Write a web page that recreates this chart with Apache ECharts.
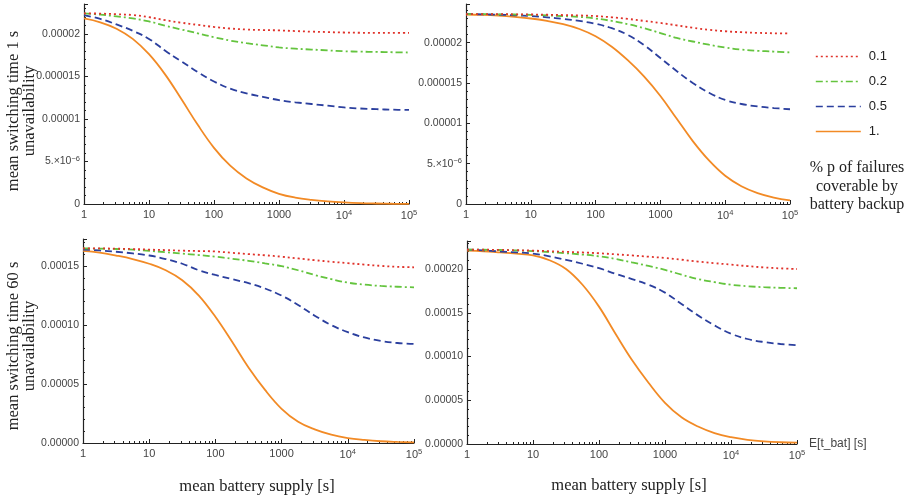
<!DOCTYPE html>
<html>
<head>
<meta charset="utf-8">
<script src="https://cdn.jsdelivr.net/npm/echarts@6/dist/echarts.min.js"></script>
<style>html,body{margin:0;padding:0;background:#fff}#c{width:914px;height:499px}</style>
</head>
<body>
<div id="c"></div>
<script>
// ---- data ----
const xs = [1, 1.778, 3.162, 5.623, 10, 17.78, 31.62, 56.23, 100, 177.8, 316.2, 562.3, 1000, 1778, 3162, 5623, 10000, 17783, 31623, 56234, 100000];
const seriesNames = ['0.1', '0.2', '0.5', '1.'];

// top-left: mean switching time 1 s
const tl_p01 = [22.4e-6,22.37e-6,22.3e-6,22.2e-6,21.95e-6,21.6e-6,21.3e-6,21.05e-6,20.8e-6,20.62e-6,20.5e-6,20.44e-6,20.4e-6,20.32e-6,20.25e-6,20.2e-6,20.15e-6,20.12e-6,20.1e-6,20.1e-6,20.1e-6];
const tl_p02 = [22.4e-6,22.25e-6,22.05e-6,21.8e-6,21.45e-6,20.95e-6,20.5e-6,20.05e-6,19.6e-6,19.2e-6,18.9e-6,18.65e-6,18.4e-6,18.25e-6,18.15e-6,18.05e-6,17.95e-6,17.9e-6,17.87e-6,17.83e-6,17.8e-6];
const tl_p05 = [22.2e-6,21.75e-6,21.1e-6,20.35e-6,19.4e-6,18.0e-6,16.75e-6,15.5e-6,14.4e-6,13.55e-6,13.0e-6,12.6e-6,12.2e-6,11.95e-6,11.75e-6,11.55e-6,11.35e-6,11.22e-6,11.14e-6,11.08e-6,11.05e-6];
const tl_p1  = [21.8e-6,21.35e-6,20.6e-6,19.4e-6,17.6e-6,15.2e-6,12.3e-6,9.3e-6,6.6e-6,4.5e-6,3.0e-6,1.95e-6,1.2e-6,0.75e-6,0.48e-6,0.3e-6,0.18e-6,0.1e-6,0.06e-6,0.03e-6,0.02e-6];

// top-right: mean switching time 1 s
const tr_p01 = [23.55e-6,23.55e-6,23.55e-6,23.52e-6,23.5e-6,23.47e-6,23.43e-6,23.38e-6,23.3e-6,23.15e-6,22.95e-6,22.7e-6,22.45e-6,22.15e-6,21.85e-6,21.6e-6,21.42e-6,21.3e-6,21.22e-6,21.17e-6,21.15e-6];
const tr_p02 = [23.55e-6,23.55e-6,23.52e-6,23.5e-6,23.45e-6,23.38e-6,23.3e-6,23.2e-6,23.0e-6,22.7e-6,22.3e-6,21.8e-6,21.2e-6,20.6e-6,20.15e-6,19.75e-6,19.4e-6,19.15e-6,19.0e-6,18.9e-6,18.8e-6];
const tr_p05 = [23.55e-6,23.52e-6,23.47e-6,23.4e-6,23.3e-6,23.15e-6,22.95e-6,22.7e-6,22.35e-6,21.8e-6,20.95e-6,19.7e-6,18.1e-6,16.5e-6,15.0e-6,13.8e-6,12.9e-6,12.4e-6,12.1e-6,11.9e-6,11.75e-6];
const tr_p1  = [23.5e-6,23.45e-6,23.35e-6,23.2e-6,23.0e-6,22.7e-6,22.3e-6,21.7e-6,20.8e-6,19.5e-6,17.8e-6,15.8e-6,13.4e-6,10.6e-6,7.8e-6,5.4e-6,3.5e-6,2.2e-6,1.35e-6,0.8e-6,0.45e-6];

// bottom-left: mean switching time 60 s
const bl_p01 = [165e-6,165e-6,164.8e-6,164.5e-6,164e-6,163.6e-6,163.1e-6,162.8e-6,162.4e-6,161.3e-6,160.2e-6,159.2e-6,158e-6,156.5e-6,155e-6,153.7e-6,152.5e-6,151.3e-6,150.2e-6,149.4e-6,149e-6];
const bl_p02 = [165e-6,164.8e-6,164.5e-6,164e-6,163e-6,161.8e-6,160.6e-6,159.4e-6,158e-6,156.3e-6,154.5e-6,152.3e-6,150e-6,146.5e-6,142.5e-6,139e-6,136e-6,134.3e-6,133.2e-6,132.5e-6,132e-6];
const bl_p05 = [164e-6,163.3e-6,162.2e-6,160.8e-6,159e-6,156e-6,152e-6,146.5e-6,142.5e-6,139e-6,135.5e-6,131e-6,125e-6,117e-6,108e-6,100e-6,94e-6,89.5e-6,86.5e-6,84.8e-6,84e-6];
const bl_p1  = [163e-6,161.5e-6,159e-6,156e-6,152e-6,146.5e-6,138e-6,125e-6,107e-6,86e-6,64e-6,45e-6,29e-6,18e-6,11.5e-6,7e-6,4.2e-6,2.6e-6,1.5e-6,0.9e-6,0.5e-6];

// bottom-right: mean switching time 60 s
const br_p01 = [222e-6,222e-6,221.8e-6,221.5e-6,221e-6,220.3e-6,219.6e-6,218.9e-6,218e-6,216.8e-6,215.5e-6,214.1e-6,212.6e-6,210.6e-6,208.5e-6,206.7e-6,205e-6,203.3e-6,201.8e-6,200.7e-6,200e-6];
const br_p02 = [222e-6,222e-6,221.7e-6,221.2e-6,220.5e-6,219.4e-6,218e-6,216.5e-6,214.5e-6,211.5e-6,207.5e-6,203.5e-6,199e-6,193.5e-6,188.5e-6,185e-6,182e-6,180.3e-6,179.2e-6,178.5e-6,178e-6];
const br_p05 = [222e-6,221.2e-6,220e-6,219e-6,217.6e-6,214.5e-6,210.5e-6,206e-6,201e-6,194.5e-6,188.5e-6,182e-6,173e-6,160e-6,147e-6,135.5e-6,126e-6,120e-6,116.5e-6,114.3e-6,113e-6];
const br_p1  = [221e-6,220.3e-6,219e-6,217.5e-6,215.5e-6,210e-6,200e-6,182e-6,157e-6,126e-6,96e-6,70e-6,47e-6,30.5e-6,20e-6,12.5e-6,7.8e-6,4.8e-6,3.0e-6,2.0e-6,1.5e-6];

// tick labels
const xTickValues = [1, 10, 100, 1000, 10000, 100000];
const xTickLabels = ['1', '10', '100', '1000', '10{sup|4}', '10{sup|5}'];
const yTickLabelsTop = ['0', '5.\u00d710{sup|\u22126}', '0.00001', '0.000015', '0.00002'];
const yTickLabelsBottom = ['0.00000', '0.00005', '0.00010', '0.00015', '0.00020'];

const panelData = [
  [tl_p01, tl_p02, tl_p05, tl_p1],
  [tr_p01, tr_p02, tr_p05, tr_p1],
  [bl_p01, bl_p02, bl_p05, bl_p1],
  [br_p01, br_p02, br_p05, br_p1]
];

// ---- styles ----
const colors = ['#e0322a', '#64c43e', '#2b3f9e', '#f28a25'];
const dashTypes = [[2, 3], [7, 3, 2, 3], [7, 4], 'solid'];
const widths = [1.8, 1.8, 1.8, 1.8];

const grids = [
  {left: 84, top: 4, width: 325, height: 200},
  {left: 466, top: 4, width: 324, height: 200},
  {left: 83, top: 239, width: 331, height: 204},
  {left: 467, top: 241, width: 330, height: 203}
];
const yMax = [23.5e-6, 24.8e-6, 173e-6, 232e-6];
const yInterval = [5e-6, 5e-6, 50e-6, 50e-6];

const labelColor = '#444';
const axisColor = '#222';
const supRich = {sup: {fontSize: 7.5, padding: [0, 0, 6, 0], color: labelColor, fontFamily: 'Liberation Sans'}};

const xAxes = grids.map((g, i) => ({
  type: 'log', logBase: 10, gridIndex: i, min: 1, max: 100000,
  axisLine: {onZero: false, lineStyle: {color: axisColor, width: 1.2}},
  axisTick: {inside: true, length: 4, lineStyle: {color: axisColor}},
  minorTick: {show: true, splitNumber: 9, length: 2, lineStyle: {color: axisColor}},
  splitLine: {show: false},
  axisLabel: {
    margin: 5, fontSize: 11, color: labelColor, fontFamily: 'Liberation Sans',
    showMinLabel: true, showMaxLabel: true,
    formatter: v => { const k = xTickValues.findIndex(t => Math.abs(Math.log10(t) - Math.log10(v)) < 1e-6); return k >= 0 ? xTickLabels[k] : ''; },
    rich: supRich
  },
  name: i === 3 ? 'E[t_bat] [s]' : '',
  nameLocation: 'end', nameGap: 9,
  nameTextStyle: {fontSize: 12, color: labelColor, fontFamily: 'Liberation Sans', align: 'left', verticalAlign: 'middle'}
}));

const yAxes = grids.map((g, i) => ({
  type: 'value', gridIndex: i, min: 0, max: yMax[i], interval: yInterval[i],
  axisLine: {show: true, onZero: false, lineStyle: {color: axisColor, width: 1.2}},
  axisTick: {show: true, inside: true, length: 4, lineStyle: {color: axisColor}},
  minorTick: {show: true, splitNumber: 5, length: 2, lineStyle: {color: axisColor}},
  splitLine: {show: false},
  axisLabel: {
    margin: 4, fontSize: 10.5, color: labelColor, fontFamily: 'Liberation Sans',
    showMaxLabel: false,
    formatter: v => { const k = Math.round(v / yInterval[i]); const labels = i < 2 ? yTickLabelsTop : yTickLabelsBottom; return Math.abs(k * yInterval[i] - v) < yInterval[i] * 1e-3 ? (labels[k] || '') : ''; },
    rich: supRich
  }
}));

const series = [];
panelData.forEach((arrs, gi) => {
  arrs.forEach((vals, si) => {
    series.push({
      name: seriesNames[si], type: 'line', xAxisIndex: gi, yAxisIndex: gi,
      data: xs.map((x, k) => [x, vals[k]]),
      smooth: 0.4, symbol: 'none', silent: true, z: 10 - si,
      lineStyle: {color: colors[si], width: widths[si], type: dashTypes[si]},
      itemStyle: {color: colors[si]}
    });
  });
});

const titleColor = '#222';
const titleFont = '16.5px "Liberation Serif"';
function txt(x, y, text, rot, font) {
  return {type: 'text', x: x, y: y, rotation: rot ? Math.PI / 2 : 0, silent: true,
    style: {text: text, font: font || titleFont, fill: titleColor, textAlign: 'center', textVerticalAlign: 'middle'}};
}
const option = {
  animation: false,
  backgroundColor: '#fff',
  grid: grids.map(g => Object.assign({containLabel: false}, g)),
  xAxis: xAxes,
  yAxis: yAxes,
  series: series,
  legend: {
    data: seriesNames, orient: 'vertical', left: 815, top: 50, padding: 0,
    itemWidth: 45, itemHeight: 14, itemGap: 12,
    itemStyle: {opacity: 0},
    lineStyle: {width: 1.6},
    textStyle: {fontSize: 13, color: '#222', fontFamily: 'Liberation Sans', padding: [0, 0, 0, 3]},
    selectedMode: false
  },
  graphic: [
    txt(14, 111, 'mean switching time 1 s', true),
    txt(30, 111, 'unavailability', true),
    txt(14, 346, 'mean switching time 60 s', true),
    txt(30, 346, 'unavailability', true),
    txt(257, 487, 'mean battery supply [s]'),
    txt(629, 486, 'mean battery supply [s]'),
    txt(857, 168, '% p of failures', false, '16px "Liberation Serif"'),
    txt(857, 187, 'coverable by', false, '16px "Liberation Serif"'),
    txt(857, 205, 'battery backup', false, '16px "Liberation Serif"')
  ]
};

const chart = echarts.init(document.getElementById('c'), null, {renderer: 'canvas'});
chart.setOption(option);
</script>
</body>
</html>
